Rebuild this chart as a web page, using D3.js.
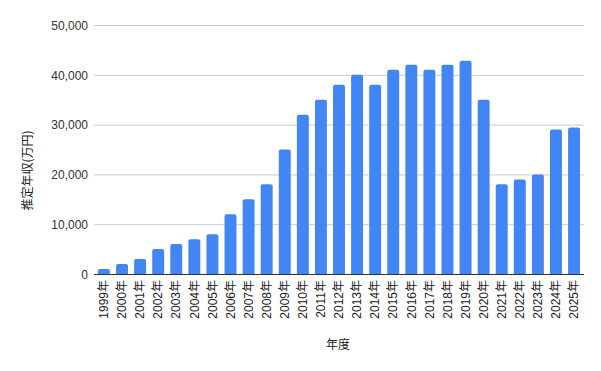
<!DOCTYPE html>
<html><head><meta charset="utf-8">
<script src="https://cdn.jsdelivr.net/npm/d3@7"></script>
<style>body{margin:0;background:#fff}svg{display:block;font-family:"Liberation Sans",Arial,"Noto Sans CJK JP",sans-serif}</style>
</head><body><svg id="c" width="601" height="371"></svg>
<script>
const categories = ["1999年","2000年","2001年","2002年","2003年","2004年","2005年","2006年","2007年","2008年","2009年","2010年","2011年","2012年","2013年","2014年","2015年","2016年","2017年","2018年","2019年","2020年","2021年","2022年","2023年","2024年","2025年"];
const values = [1000,2000,3000,5000,6000,7000,8000,12000,15000,18000,25000,32000,35000,38000,40000,38000,41000,42000,41000,42000,42800,35000,18000,19000,20000,29000,29400];
const yTicks = [0,10000,20000,30000,40000,50000];
const yTitle = "推定年収(万円)";
const xTitle = "年度";

(function(){
const svg = d3.select("#c");
const mLeft = 94, mRight = 584, mTop = 25, mBottom = 274;
const x = d3.scaleBand().domain(categories).range([mLeft, mRight]).paddingInner(0.34).paddingOuter(0.22);
const y = d3.scaleLinear().domain([0, 50000]).range([mBottom, mTop]);

svg.append("g").selectAll("line").data(yTicks.filter(d => d > 0)).join("line")
  .attr("x1", mLeft).attr("x2", mRight).attr("y1", d => y(d) + 0.5).attr("y2", d => y(d) + 0.5)
  .attr("stroke", "#cccccc").attr("stroke-width", 1);

const yAxis = d3.axisLeft(y).tickValues(yTicks).tickSize(0).tickPadding(6).tickFormat(d3.format(","));
const ga = svg.append("g").attr("transform", `translate(${mLeft},0)`).call(yAxis);
ga.select(".domain").remove();
ga.selectAll("text").attr("font-size", 12).attr("fill", "#333").attr("font-family", "Liberation Sans, Arial, sans-serif").attr("dy", "0.35em");

const r = 2;
svg.append("g").selectAll("path").data(values).join("path")
  .attr("fill", "#4285f4")
  .attr("d", (d, i) => {
    const x0 = x(categories[i]), w = x.bandwidth(), y0 = y(d), y1 = y(0);
    return `M${x0},${y1}V${y0 + r}Q${x0},${y0} ${x0 + r},${y0}H${x0 + w - r}Q${x0 + w},${y0} ${x0 + w},${y0 + r}V${y1}Z`;
  });

svg.append("line").attr("x1", mLeft).attr("x2", mRight).attr("y1", mBottom + 0.5).attr("y2", mBottom + 0.5)
  .attr("stroke", "#333").attr("stroke-width", 1);

const xAxis = d3.axisBottom(x).tickSize(0).tickPadding(0);
const gx = svg.append("g").attr("transform", `translate(0,${mBottom})`).call(xAxis);
gx.select(".domain").remove();
gx.selectAll("text")
  .attr("font-size", 12).attr("fill", "#222")
  .attr("transform", "rotate(-90)")
  .attr("text-anchor", "end")
  .attr("x", -6).attr("y", 0).attr("dy", "0.35em")
  .attr("font-family", "Liberation Sans, Arial, 'Noto Sans CJK JP', sans-serif");

svg.append("text").attr("transform", `translate(28,${(mTop + mBottom) / 2 + 21}) rotate(-90)`)
  .attr("text-anchor", "middle").attr("font-size", 12).attr("fill", "#222")
  .attr("font-family", "'Noto Sans CJK JP', sans-serif").attr("dy", "0.35em").text(yTitle);
svg.append("text").attr("x", 338).attr("y", 345)
  .attr("text-anchor", "middle").attr("font-size", 12).attr("fill", "#222")
  .attr("font-family", "'Noto Sans CJK JP', sans-serif").attr("dy", "0.35em").text(xTitle);
})();
</script></body></html>
